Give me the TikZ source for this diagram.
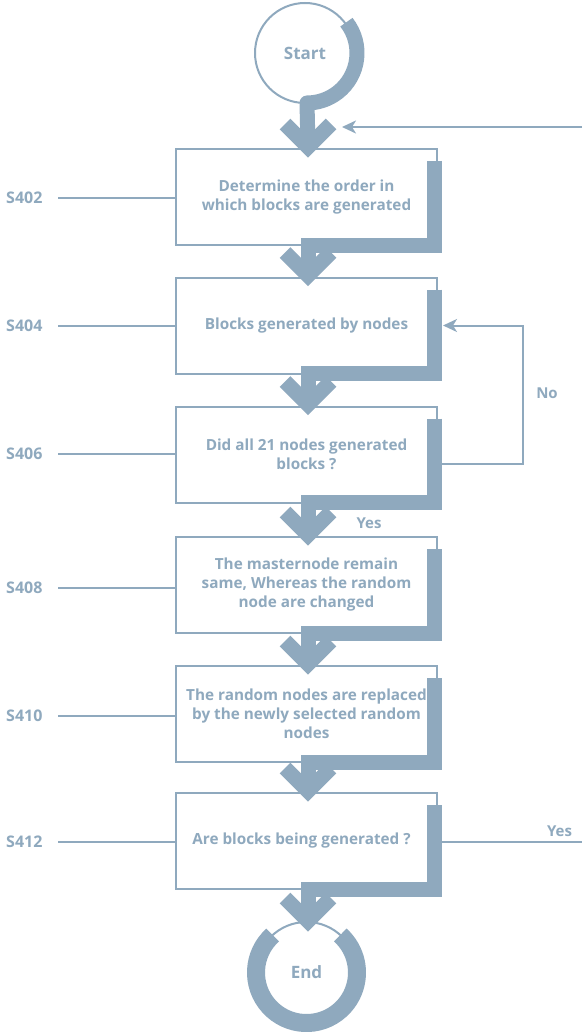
\documentclass[tikz,border=0pt]{standalone}
\usepackage{fontspec}
\setmainfont{Open Sans}
\usetikzlibrary{arrows.meta,calc}
\definecolor{bc}{RGB}{143,169,190}
\tikzset{
  box/.style={draw=bc, line width=2pt, fill=white, minimum width=261pt, minimum height=96pt,
    inner sep=0pt, outer sep=0pt, align=center, text=bc,
    font=\fontsize{15.3}{19}\selectfont\bfseries},
  term/.style={circle, draw=bc, line width=2pt, fill=white, inner sep=0pt, outer sep=0pt,
    text=bc, font=\fontsize{17}{19}\selectfont\bfseries},
  slab/.style={anchor=west, inner sep=0pt, text=bc, font=\fontsize{16}{19}\selectfont\bfseries},
  lab/.style={inner sep=0pt, text=bc, font=\fontsize{15}{19}\selectfont\bfseries},
  bar/.style={draw=bc, line width=15pt, line join=miter},
  chev/.style={draw=bc, line width=15pt, line join=miter},
  conn/.style={draw=bc, line width=2pt},
  arr/.style={draw=bc, line width=2pt, -{Stealth[length=14pt,width=13pt,inset=4pt]}},
}
\newcommand\flowbar[3]{%
  \draw[bar] ($(#1.north east)+(-2.5,12)$) -- ($(#1.south east)+(-2.5,0)$)
     -- ($(#1.south)+(1.5,0)$) -- ($(#2.north)+(1.5,#3)$);
  \draw[chev] ($(#2.north)+(-21.5,#3-23)$) -- ($(#2.north)+(1.5,#3)$) -- ($(#2.north)+(24.5,#3-23)$);}
\begin{document}
\begin{tikzpicture}[x=1pt,y=-1pt]
\useasboundingbox (0,0) rectangle (582,1035);
\fill[white] (0,0) rectangle (582,1035);

% terminals
\node[term, minimum size=100pt] (start) at (305,53) {Start};
\node[term, minimum size=101pt] (endc) at (306.5,972.5) {End};

% boxes
\node[box] (b1) at (306.5,197) {Determine the order in\\which blocks are generated};
\node[box] (b2) at (306.5,325.5) {Blocks generated by nodes};
\node[box] (b3) at (306.5,454.5) {Did all 21 nodes generated\\blocks ?};
\node[box] (b4) at (306.5,585) {The masternode remain\\same, Whereas the random\\node are changed};
\node[box] (b5) at (306.5,714) {The random nodes are replaced\\by the newly selected random\\nodes};
\node[box] (b6) at (306.5,841) {Are blocks being generated ?\rule{10pt}{0pt}};

% step labels
\node[slab] (s1) at (6,198) {S402};
\node[slab] (s2) at (6,326) {S404};
\node[slab] (s3) at (6,454) {S406};
\node[slab] (s4) at (6,588) {S408};
\node[slab] (s5) at (6,716) {S410};
\node[slab] (s6) at (6,842) {S412};
\draw[conn] (58,198) -- (s1.east -| b1.west);
\draw[conn] (58,326) -- (s2.east -| b2.west);
\draw[conn] (58,454) -- (s3.east -| b3.west);
\draw[conn] (58,588) -- (s4.east -| b4.west);
\draw[conn] (58,716) -- (s5.east -| b5.west);
\draw[conn] (58,842) -- (s6.east -| b6.west);

% start arc and arrow
\draw[bar, line join=round] ($(start.center)+(41.4,-30.8)$) arc[start angle=-38,end angle=90,radius=50]
   -- ($(b1.north)+(1.5,-2)$);
\draw[chev] ($(b1.north)+(-21.5,-25)$) -- ($(b1.north)+(1.5,-2)$) -- ($(b1.north)+(24.5,-25)$);

% end ring
\draw[draw=bc, line width=18pt] ($(endc.center)+(-33.8,-37.5)$) arc[start angle=-132,end angle=-408,radius=50.5];

% flow bars
\flowbar{b1}{b2}{-2}
\flowbar{b2}{b3}{-2}
\flowbar{b3}{b4}{-2}
\flowbar{b4}{b5}{-2}
\flowbar{b5}{b6}{-2}
\flowbar{b6}{endc}{-1}

% feedback arrows
\coordinate (fin) at (582,127);
\coordinate (fintip) at (342,127);
\draw[arr] (fin) -- (fintip);
\draw[arr] ($(b3.east)+(5,9)$) -- ++(81,0) |- ($(b2.east)+(6,0)$);
\coordinate (yesout) at (582,842);
\draw[conn] ($(b6.east)+(5,1)$) -- (yesout);

\node[lab] (no) at (547,393) {No};
\node[lab] (yes1) at (369,523) {Yes};
\node[lab] (yes2) at (559.5,831) {Yes};
\end{tikzpicture}
\end{document}
